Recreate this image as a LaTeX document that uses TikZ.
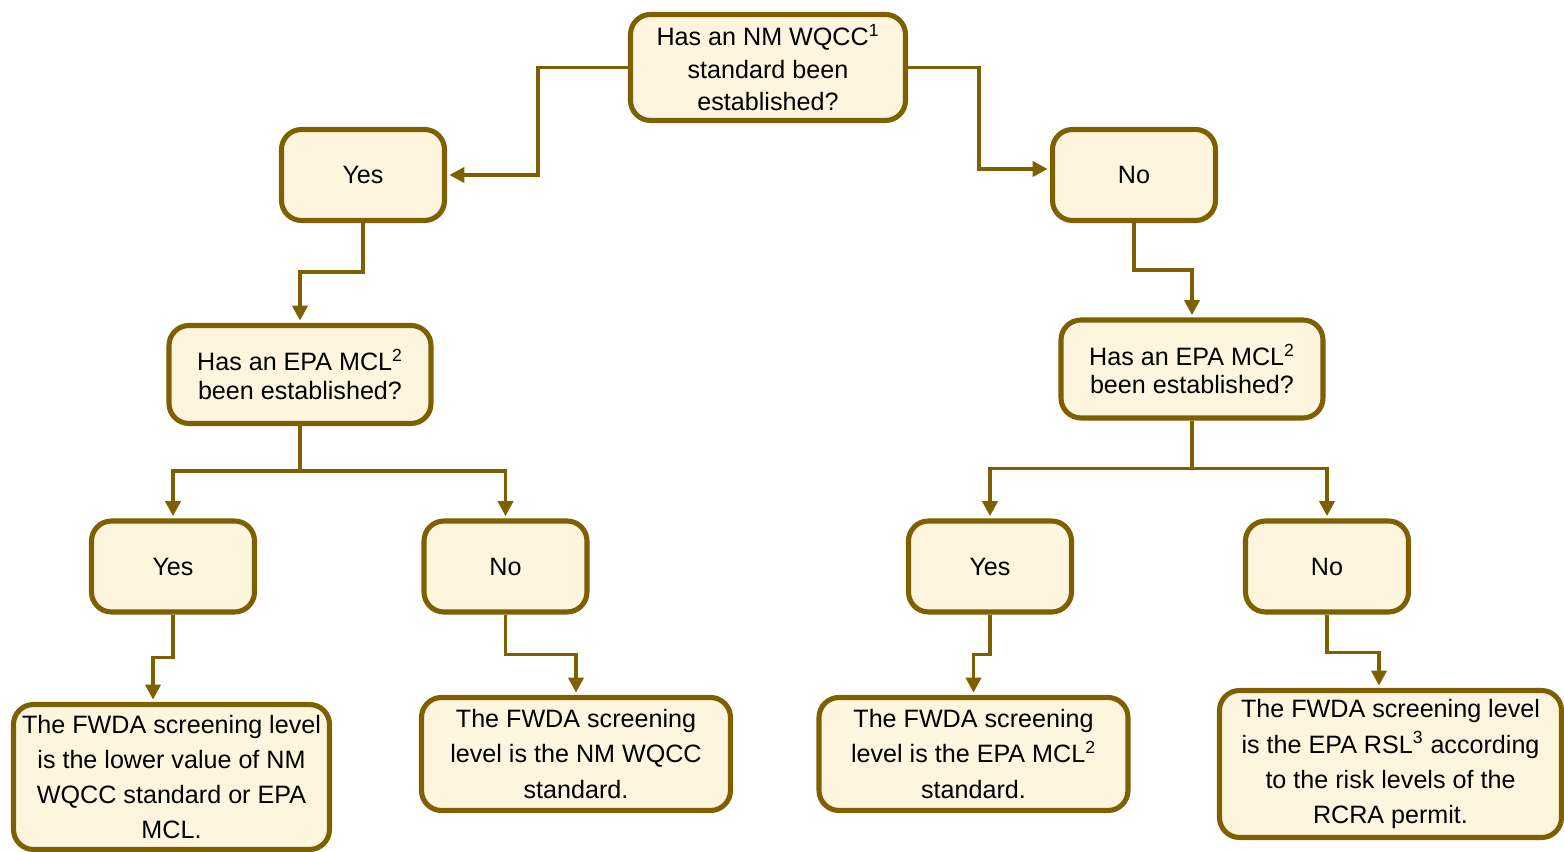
\documentclass[tikz,border=0pt]{standalone}
\usepackage{fontspec}
\setmainfont{Liberation Sans}
\usetikzlibrary{arrows.meta}

\definecolor{flowline}{HTML}{7F6000}
\definecolor{flowfill}{HTML}{FEF5DE}

\begin{document}
\begin{tikzpicture}[
    box/.style={draw=flowline, fill=flowfill, line width=2.9pt, rounded corners=0.4cm,
      align=center, inner sep=2pt, font=\fontsize{14.3}{20}\selectfont},
    answer/.style={box, minimum width=3.26cm, minimum height=1.82cm},
    query/.style={box, minimum width=5.24cm, minimum height=1.96cm,
      font=\fontsize{14.3}{16.2}\selectfont},
    flow/.style={draw=flowline, line width=2.1pt, shorten >=1.3pt,
      -{Triangle[width=0.3cm,length=0.3cm]}},
  ]
        \useasboundingbox (0,0) rectangle (31.28,17.04);

        % Question on top
        \node[box, minimum width=5.5cm, minimum height=2.12cm,
          font=\fontsize{14.3}{18.5}\selectfont] (q1) at (15.36,15.69)
          {Has an NM WQCC\textsuperscript{1}\\standard been\\established?};

        % First answers
        \node[answer] (y1) at (7.26,13.54) {Yes};
        \node[answer] (n1) at (22.68,13.54) {No};

        % MCL questions
        \node[query] (m1) at (6.0,9.55) {Has an EPA MCL\textsuperscript{2}\\been established?};
        \node[query] (m2) at (23.84,9.66) {Has an EPA MCL\textsuperscript{2}\\been established?};

        % Second answers
        \node[answer] (y2) at (3.46,5.71) {Yes};
        \node[answer] (n2) at (10.11,5.71) {No};
        \node[answer] (y3) at (19.8,5.71) {Yes};
        \node[answer] (n3) at (26.54,5.71) {No};

        % Screening levels
        \node[box, minimum width=6.32cm, minimum height=2.9cm] (r1) at (3.43,1.5)
          {The FWDA screening level\\is the lower value of NM\\WQCC standard or EPA\\MCL.};
        \node[box, minimum width=6.18cm, minimum height=2.26cm] (r2) at (11.52,1.96)
          {The FWDA screening\\level is the NM WQCC\\standard.};
        \node[box, minimum width=6.18cm, minimum height=2.26cm] (r3) at (19.47,1.96)
          {The FWDA screening\\level is the EPA MCL\textsuperscript{2}\\standard.};
        \node[box, minimum width=6.84cm, minimum height=2.94cm, text depth=0.1cm] (r4) at (27.81,1.76)
          {The FWDA screening level\\is the EPA RSL\textsuperscript{3} according\\to the risk levels of the\\RCRA permit.};

        % Connectors
        \draw[flow] (q1.west) -- ++(-1.8,0) |- (y1.east);
        \draw[flow] (q1.east) -- ++(1.42,0) |- ([yshift=0.12cm]n1.west);
        \draw[flow] (y1.south) -- ++(0,-0.98) -| (m1.north);
        \draw[flow] (n1.south) -- ++(0,-0.94) -| (m2.north);
        \draw[flow] (m1.south) -- ++(0,-0.9) -| (y2.north);
        \draw[flow] (m1.south) -- ++(0,-0.9) -| (n2.north);
        \draw[flow] (m2.south) -- ++(0,-0.96) -| (y3.north);
        \draw[flow] (m2.south) -- ++(0,-0.96) -| (n3.north);
        \draw[flow] (y2.south) -- ++(0,-0.86) -| ([xshift=-0.37cm]r1.north);
        \draw[flow] (n2.south) -- ++(0,-0.8) -| (r2.north);
        \draw[flow] (y3.south) -- ++(0,-0.8) -| (r3.north);
        \draw[flow] (n3.south) -- ++(0,-0.76) -| ([xshift=-0.23cm]r4.north);
      \end{tikzpicture}
\end{document}
